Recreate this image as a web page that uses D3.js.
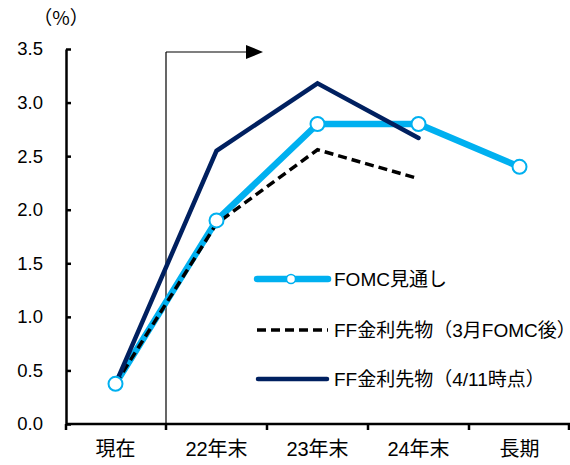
<!DOCTYPE html>
<html><head><meta charset="utf-8">
<script src="https://cdn.jsdelivr.net/npm/d3@7"></script>
<style>body{margin:0;background:#fff}text{font-family:"Liberation Sans","Noto Sans CJK JP",sans-serif;fill:#000}</style>
</head><body><svg id="c" width="570" height="465"></svg>
<script>
const categories = ["現在","22年末","23年末","24年末","長期"];
const fomc = [0.375, 1.9, 2.8, 2.8, 2.4];
const ffMarch = [0.375, 1.87, 2.56, 2.29, null];
const ffApr = [0.375, 2.55, 3.18, 2.67, null];
const yTicks = [0,0.5,1.0,1.5,2.0,2.5,3.0,3.5];
const legendLabels = ["FOMC見通し","FF金利先物（3月FOMC後）","FF金利先物（4/11時点）"];

const svg = d3.select("#c");
const axisX = 66;
const x = d3.scaleBand().domain(categories).range([65, 570]).padding(0);
const y = d3.scaleLinear().domain([0,3.5]).range([424, 49]);

// y axis
const ya = svg.append("g").attr("transform",`translate(${axisX},0)`)
  .call(d3.axisLeft(y).tickValues(yTicks).tickFormat(d3.format(".1f")).tickSize(-5).tickSizeOuter(0));
ya.attr("font-family",null).attr("font-size",null);
ya.select(".domain").attr("stroke","#000").attr("stroke-width",2.5);
ya.selectAll(".tick line").attr("stroke","#000").attr("stroke-width",2.5).attr("x2",5);
ya.selectAll(".tick text").attr("x",-23).style("font-size","18.5px").attr("fill","#000");

// x axis
const xa = svg.append("g").attr("transform",`translate(0,${y(0)})`)
  .call(d3.axisBottom(x).tickSize(0).tickSizeOuter(0));
xa.attr("font-family",null).attr("font-size",null);
xa.select(".domain").attr("d",`M${axisX},0H570`).attr("stroke","#000").attr("stroke-width",2.5);
xa.selectAll(".tick text").attr("y",0).attr("dy","1.6em").style("font-size","20px").attr("fill","#000");
// boundary ticks
const bounds = categories.slice(1).map(c=>x(c)).concat([axisX, 569]);
svg.append("g").selectAll("line").data(bounds).join("line")
  .attr("x1",d=>d).attr("x2",d=>d).attr("y1",y(0)).attr("y2",y(0)+6)
  .attr("stroke","#000").attr("stroke-width",2.5);

svg.append("text").attr("x",61).attr("y",25).attr("text-anchor","middle")
  .style("font-size","19px").style("font-family","'Noto Sans CJK JP',sans-serif").text("（%）");

// divider and arrow
const divX = x(categories[1]);
svg.append("line").attr("x1",divX).attr("x2",divX).attr("y1",y(0)).attr("y2",52).attr("stroke","#000").attr("stroke-width",1.2);
svg.append("line").attr("x1",divX).attr("x2",248).attr("y1",52).attr("y2",52).attr("stroke","#000").attr("stroke-width",1.2);
svg.append("path").attr("d",`M246,45 L263,52 L246,59 Z`).attr("fill","#000");

const cx = c => x(c) + x.bandwidth()/2;
const lineGen = d3.line().defined(d=>d.v!=null).x(d=>cx(d.c)).y(d=>y(d.v));
const toPts = arr => categories.map((c,i)=>({c, v:arr[i]}));

svg.append("path").datum(toPts(fomc)).attr("d",lineGen).attr("fill","none")
  .attr("stroke","#00B0F0").attr("stroke-width",6.5).attr("stroke-linejoin","round");
svg.append("path").datum(toPts(ffMarch)).attr("d",lineGen).attr("fill","none")
  .attr("stroke","#000").attr("stroke-width",3.5).attr("stroke-dasharray","9,5");
svg.append("path").datum(toPts(ffApr)).attr("d",lineGen).attr("fill","none")
  .attr("stroke","#002060").attr("stroke-width",4.5).attr("stroke-linejoin","miter").attr("stroke-linecap","round");
svg.append("g").selectAll("circle").data(toPts(fomc)).join("circle")
  .attr("cx",d=>cx(d.c)).attr("cy",d=>y(d.v)).attr("r",7)
  .attr("fill","#fff").attr("stroke","#00B0F0").attr("stroke-width",2);

// legend
const lg = svg.append("g");
const ly = [279, 330, 379];
lg.append("line").attr("x1",257).attr("x2",328).attr("y1",ly[0]).attr("y2",ly[0]).attr("stroke","#00B0F0").attr("stroke-width",6.5).attr("stroke-linecap","round");
lg.append("circle").attr("cx",291).attr("cy",ly[0]).attr("r",4.5).attr("fill","#fff").attr("stroke","#00B0F0").attr("stroke-width",1.5);
lg.append("line").attr("x1",257).attr("x2",328).attr("y1",ly[1]).attr("y2",ly[1]).attr("stroke","#000").attr("stroke-width",3.5).attr("stroke-dasharray","9,5");
lg.append("line").attr("x1",258).attr("x2",327).attr("y1",ly[2]).attr("y2",ly[2]).attr("stroke","#002060").attr("stroke-width",4.5).attr("stroke-linecap","round");
lg.selectAll("text").data(legendLabels).join("text")
  .attr("x",334).attr("y",(d,i)=>ly[i]).attr("dy","0.36em").style("font-size","19px").text(d=>d);
</script></body></html>
